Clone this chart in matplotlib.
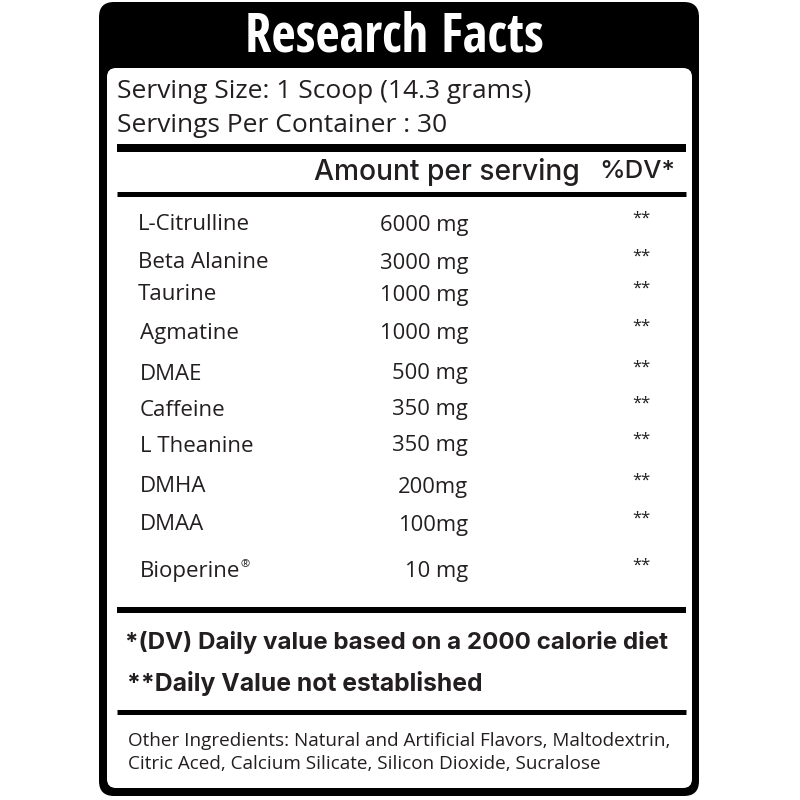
import matplotlib
matplotlib.use("Agg")
import matplotlib.pyplot as plt
from matplotlib.patches import FancyBboxPatch
from matplotlib import font_manager

# label content
title = "Research Facts"
serving_size = "Serving Size: 1 Scoop (14.3 grams)"
servings_per = "Servings Per Container : 30"
ingredients = ["L-Citrulline", "Beta Alanine", "Taurine", "Agmatine", "DMAE",
               "Caffeine", "L Theanine", "DMHA", "DMAA", "Bioperine"]
amounts = ["6000 mg", "3000 mg", "1000 mg", "1000 mg", "500 mg",
           "350 mg", "350 mg", "200mg", "100mg", "10 mg"]
daily_value = ["**"] * len(ingredients)
row_y = [225, 263, 295, 333, 374, 410, 446, 487, 525, 572]
name_x = [138, 138, 138, 140, 140, 140, 140, 140, 140, 140]
note1 = "*(DV) Daily value based on a 2000 calorie diet"
note2 = "**Daily Value not established"
other = ["Other Ingredients: Natural and Artificial Flavors, Maltodextrin,",
         "Citric Aced, Calcium Silicate, Silicon Dioxide, Sucralose"]

installed = {f.name for f in font_manager.fontManager.ttflist}
narrow = "Open Sans Condensed" if "Open Sans Condensed" in installed else "Open Sans"
body = "Open Sans"
head = "Inter"
ink = "#231f20"

fig = plt.figure(figsize=(8, 8), dpi=100)
ax = fig.add_axes([0, 0, 1, 1])
ax.set_xlim(0, 800)
ax.set_ylim(800, 0)
ax.axis("off")

# outer frame and header band
ax.add_patch(FancyBboxPatch((99, 2), 600, 794, boxstyle="round,pad=0,rounding_size=15",
                            fc="black", ec="none"))
ax.add_patch(FancyBboxPatch((107, 68), 585, 720, boxstyle="round,pad=0,rounding_size=9",
                            fc="white", ec="none"))
ax.text(394, 38, title, color="white", fontsize=38, fontweight="bold",
        family=narrow, ha="center", va="center")

ax.text(117, 92, serving_size, fontsize=19, family=body, va="center", color=ink)
ax.text(117, 126, servings_per, fontsize=19, family=body, va="center", color=ink)

# rules
for y, lw in [(148, 8), (194, 5), (610, 6), (712, 5)]:
    ax.plot([117, 686], [y, y], color="black", lw=lw * 0.72, solid_capstyle="butt")

ax.text(580, 172, "Amount per serving", fontsize=20.3, family=head, fontweight="medium",
        ha="right", va="center", color=ink)
ax.text(675, 172, "%DV*", fontsize=18.5, family=head, fontweight="medium",
        ha="right", va="center", color=ink)

for name, amt, dv, y, x in zip(ingredients, amounts, daily_value, row_y, name_x):
    t = ax.text(x, y, name, fontsize=16, family=body, va="center", color=ink)
    ax.text(468, y, amt, fontsize=15.8, family=body, va="center", ha="right", color=ink)
    ax.text(641, y - 6, dv, fontsize=12, family=body, va="center", ha="center", color=ink)
    if name == "Bioperine":
        ax.annotate("®", xy=(1, 0.85), xycoords=t, fontsize=8, family=body,
                    ha="left", va="center", color=ink)

ax.text(125, 643, note1, fontsize=17.4, family=head, fontweight="bold", va="center", color=ink)
ax.text(127, 683, note2, fontsize=17.8, family=head, fontweight="bold", va="center", color=ink)

ax.text(128, 741, other[0], fontsize=13.6, family=body, va="center", color=ink)
ax.text(128, 764, other[1], fontsize=13.6, family=body, va="center", color=ink)

fig.savefig("out.png", dpi=100)
